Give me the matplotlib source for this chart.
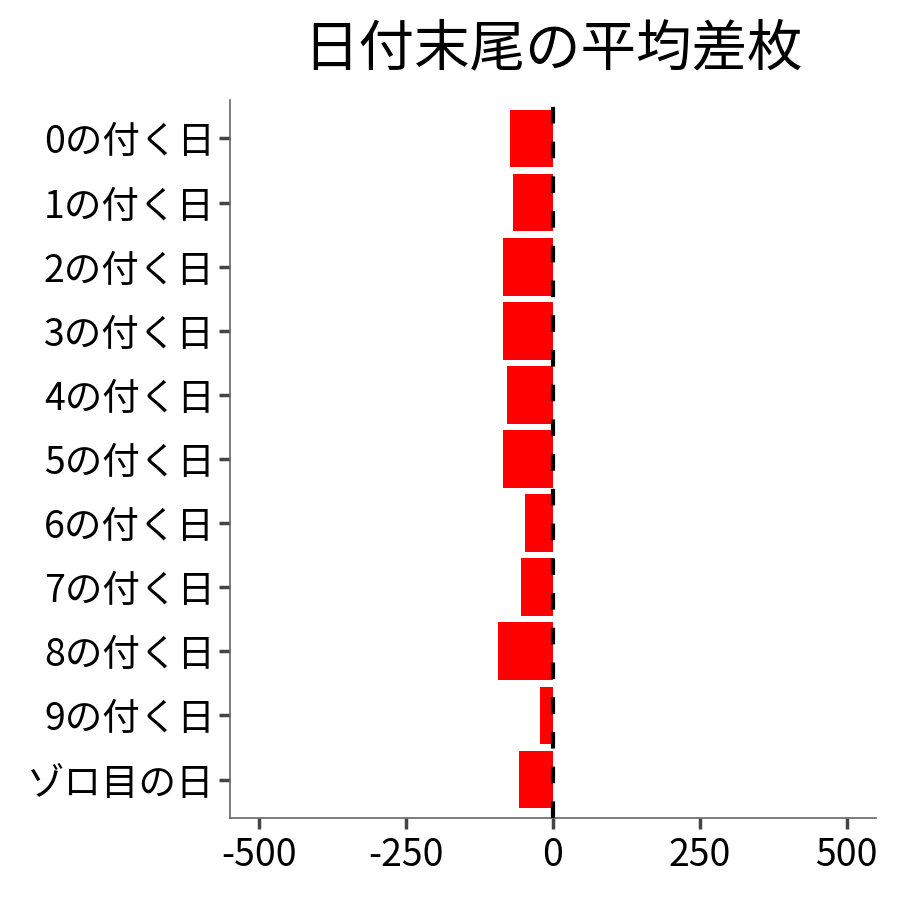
import numpy as np
import matplotlib.pyplot as plt

plt.rcParams['font.family'] = ['Noto Sans CJK JP', 'DejaVu Sans']
plt.rcParams['lines.scale_dashes'] = False

labels = ['0の付く日', '1の付く日', '2の付く日', '3の付く日', '4の付く日',
          '5の付く日', '6の付く日', '7の付く日', '8の付く日', '9の付く日', 'ゾロ目の日']
values = [-73, -68, -85, -85, -78, -85, -47, -54, -93, -22, -58]
xticks = [-500, -250, 0, 250, 500]

fig = plt.figure(figsize=(9, 9), dpi=100)
ax = fig.add_axes([0.2556, 0.0911, 0.7177, 0.7978])

y = np.arange(len(labels))
ax.barh(y, values, height=0.9, color='#ff0000', zorder=2)
ax.axvline(0, color='black', lw=3, dashes=(12, 13), zorder=3)

ax.set_yticks(y)
ax.set_yticklabels(labels)
ax.set_ylim(len(labels) - 0.4, -0.6)
ax.set_xlim(-550, 550)
ax.set_xticks(xticks)
ax.set_xticklabels([str(v) for v in xticks])

for s in ['top', 'right']:
    ax.spines[s].set_visible(False)
for s in ['left', 'bottom']:
    ax.spines[s].set_color('#666666')
    ax.spines[s].set_linewidth(1.2)

ax.tick_params(axis='both', colors='#444444', labelcolor='black',
               labelsize=27, length=8, width=2.5, pad=3)
ax.tick_params(axis='x', pad=5)

fig.text(0.6144, 0.945, '日付末尾の平均差枚', ha='center', va='center', fontsize=40)

fig.savefig('out.png', dpi=100)
